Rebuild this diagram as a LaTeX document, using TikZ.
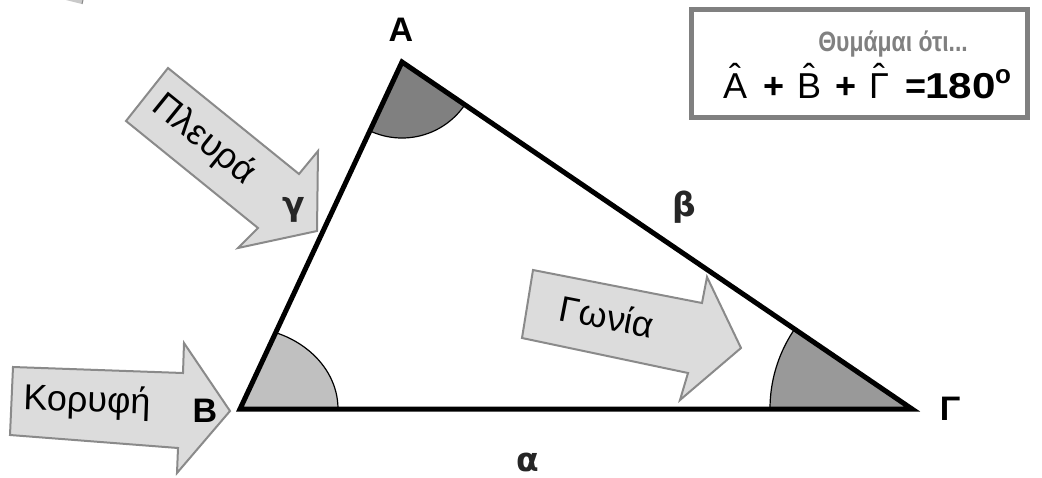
\documentclass[tikz,border=0pt]{standalone}
\usepackage{graphicx}
\usepackage{fontspec}
\setmainfont{Liberation Sans}
\newfontfamily\sidefont{DejaVu Sans}
\definecolor{arrowfill}{HTML}{DCDCDC}
\definecolor{arrowline}{HTML}{8A8A8A}
\definecolor{angA}{HTML}{808080}
\definecolor{angB}{HTML}{C0C0C0}
\definecolor{angG}{HTML}{999999}
\definecolor{boxgray}{HTML}{808080}
\newcommand\withhat[1]{\ooalign{#1\cr\hfil\raisebox{0.24em}{\fontseries{m}\selectfont ˆ}\hfil\cr}}
\begin{document}
\begin{tikzpicture}[x=1pt,y=-1pt,
  side/.style={line width=5pt,line join=miter,draw=black},
  anglefill/.style={draw=black,line width=1.2pt},
  bigarrow/.style={fill=arrowfill,draw=arrowline,line width=2pt,line join=miter},
  arrowtext/.style={font=\fontsize{36}{36}\selectfont,inner sep=0pt},
  vlabel/.style={font=\fontsize{34}{34}\selectfont\bfseries,inner sep=0pt},
  slabel/.style={font=\sidefont\fontsize{33}{33}\selectfont\bfseries,inner sep=0pt,text=black!85},
  eqpart/.style={anchor=base west,inner sep=0pt,font=\fontsize{36}{36}\selectfont}]
\useasboundingbox (0,0) rectangle (1042,477);
% tiny fragment top-left
\fill[arrowfill!80!gray] (66,0) -- (83,0) -- (82,4) -- cycle;
\draw[arrowline,line width=1pt] (83,0) -- (82,4);
\coordinate (A) at (402,62);
\coordinate (B) at (240,409);
\coordinate (G) at (912,409);
% angles
\begin{scope}
  \clip (A) -- (B) -- (G) -- cycle;
  \filldraw[anglefill,fill=angA] (A) circle[radius=76];
  \filldraw[anglefill,fill=angB] (B) ellipse[x radius=98,y radius=82];
  \filldraw[anglefill,fill=angG] (G) circle[radius=142];
\end{scope}
% triangle
\draw[side] (A) -- (B) -- (G) -- cycle;
% arrows
\draw[bigarrow] (168,68) -- (299,174) -- (318,151) -- (317,231) -- (238,248) -- (258,228) -- (126,121) -- cycle;
\draw[bigarrow] (13,367) -- (183,373) -- (184,343) -- (230,411) -- (177,473) -- (178,448) -- (10,435) -- cycle;
\draw[bigarrow] (533,270) -- (702,303) -- (707,277) -- (741,348) -- (680,400) -- (688,373) -- (522,338) -- cycle;
\node[arrowtext,rotate=-39] (tside) at (204,140) {Πλευρά};
\node[arrowtext,rotate=-2] (tvert) at (87,402) {Κορυφή};
\node[arrowtext,rotate=-11] (tang) at (607,316) {Γωνία};
% vertex labels
\node[vlabel] (lA) at (401,30) {A};
\node[vlabel] (lB) at (205,411) {B};
\node[vlabel] (lG) at (950,409) {Γ};
% side labels
\node[slabel] (la) at (528,462) {α};
\node[slabel] (lb) at (684,207) {β};
\node[slabel] (lc) at (294,210) {γ};
% box
\node[draw=boxgray,line width=5pt,minimum width=336pt,minimum height=108pt,inner sep=0pt] (box) at (859.5,63.5) {};
\node[anchor=base,font=\fontsize{28}{28}\selectfont\bfseries,text=boxgray,inner sep=0pt] (t1) at (893,51.5) {\scalebox{0.82}[1]{Θυμάμαι ότι...}};
\node[eqpart] (eA) at (723,98) {\withhat{A}};
\node[eqpart,font=\fontsize{36}{36}\selectfont\bfseries] (p1) at (763.5,98) {+};
\node[eqpart] (eB) at (797,98) {\withhat{B}};
\node[eqpart,font=\fontsize{36}{36}\selectfont\bfseries] (p2) at (835.5,98) {+};
\node[eqpart] (eG) at (869,98) {\withhat{Γ}};
\node[eqpart,font=\fontsize{36}{36}\selectfont\bfseries] (eq) at (905.5,98) {=};
\node[eqpart,font=\fontsize{36}{36}\selectfont\bfseries] (num) at (925,98) {\scalebox{1.17}[1]{180}};
\node[eqpart,font=\fontsize{26}{26}\selectfont\bfseries] (deg) at (995,83) {o};
\end{tikzpicture}
\end{document}
